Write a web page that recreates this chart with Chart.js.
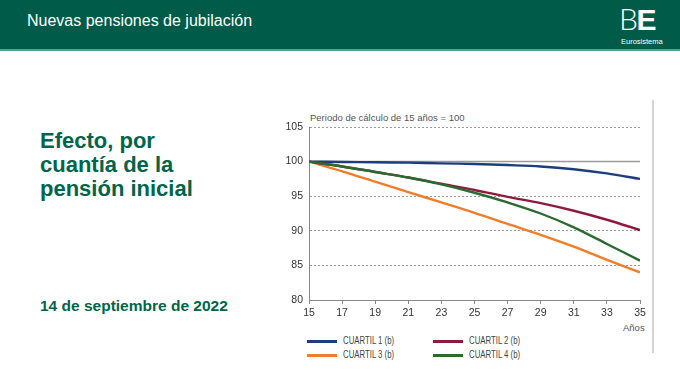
<!DOCTYPE html>
<html>
<head>
<meta charset="utf-8">
<script src="https://cdn.jsdelivr.net/npm/chart.js@4"></script>
<style>
  html, body { margin:0; padding:0; }
  body { width:680px; height:383px; position:relative; background:#fff; overflow:hidden;
         font-family:"Liberation Sans", Arial, Helvetica, sans-serif; }
  #band { position:absolute; left:0; top:0; width:680px; height:49px; background:#005b49; }
  #stripe { position:absolute; left:0; top:49px; width:680px; height:2px; background:#5d9e8f; }
  #htitle { position:absolute; left:27px; top:12px; color:#fff; font-size:16px; white-space:nowrap; }
  #logo { position:absolute; left:619px; top:1px; color:#fff; font-size:30px; line-height:34px; white-space:nowrap; letter-spacing:-1.5px; }
  #logo .b { font-family:"Lato","Liberation Sans",sans-serif; font-weight:300; }
  #logo .e { font-weight:700; }
  #euro { position:absolute; left:621px; top:37px; color:#fff; font-size:7.5px; white-space:nowrap; }
  #main { position:absolute; left:40px; top:129px; color:#00654a; font-weight:700; font-size:22px; line-height:24px; }
  #date { position:absolute; left:40px; top:297px; color:#00654a; font-weight:700; font-size:15.5px; white-space:nowrap; }
  #sub { position:absolute; left:310px; top:112px; color:#555; font-size:9.5px; white-space:nowrap; }
  #anos { position:absolute; left:623px; top:322px; color:#555; font-size:9.5px; }
  #vline { position:absolute; left:652px; top:100px; width:2px; height:253px; background:#d4d4d4; }
  #chartbox { position:absolute; left:270px; top:105px; width:385px; height:225px; }
  .lg { position:absolute; height:10px; }
  .lg .sw { position:absolute; left:0; top:4px; width:30px; height:3px; }
  .lg .tx { position:absolute; left:36px; top:-1px; font-size:10px; color:#444; white-space:nowrap;
            transform:scaleX(0.78); transform-origin:left center; }
</style>
</head>
<body>
<div id="band"></div>
<div id="stripe"></div>
<div id="htitle">Nuevas pensiones de jubilación</div>
<div id="logo"><span class="b">B</span><span class="e">E</span></div>
<div id="euro">Eurosistema</div>
<div id="main">Efecto, por<br>cuantía de la<br>pensión inicial</div>
<div id="date">14 de septiembre de 2022</div>
<div id="sub">Periodo de cálculo de 15 años = 100</div>
<div id="anos">Años</div>
<div id="vline"></div>
<div id="chartbox"><canvas id="c" width="385" height="225"></canvas></div>
<div id="legend"></div>
<script>
const years = [15, 17, 19, 21, 23, 25, 27, 29, 31, 33, 35];
const cuartil1 = [100, 99.95, 99.9, 99.85, 99.75, 99.65, 99.5, 99.3, 98.9, 98.3, 97.5];
const cuartil2 = [100, 99.3, 98.5, 97.7, 96.8, 95.9, 94.9, 94.0, 92.9, 91.6, 90.1];
const cuartil3 = [100, 98.6, 97.1, 95.6, 94.1, 92.6, 91.0, 89.4, 87.7, 85.8, 84.0];
const cuartil4 = [100, 99.3, 98.5, 97.7, 96.7, 95.5, 94.1, 92.5, 90.5, 88.1, 85.7];
const base = [100, 100, 100, 100, 100, 100, 100, 100, 100, 100, 100];
const seriesNames = ["CUARTIL 1 (b)", "CUARTIL 2 (b)", "CUARTIL 3 (b)", "CUARTIL 4 (b)"];
const yTicks = [80, 85, 90, 95, 100, 105];
const xTicks = [15, 17, 19, 21, 23, 25, 27, 29, 31, 33, 35];

const colors = ["#1d3e7c", "#8e1b3b", "#f07d28", "#2b6b31"];
const toXY = arr => arr.map((v, i) => ({x: years[i], y: v}));
const series = [cuartil1, cuartil2, cuartil3, cuartil4];
const orders = [4, 2, 3, 1];

const datasets = series.map((s, i) => ({
  label: seriesNames[i], data: toXY(s), borderColor: colors[i], borderWidth: 2.4,
  pointRadius: 0, tension: 0.35, fill: false, order: orders[i]
}));
datasets.push({label: 'base', data: toXY(base), borderColor: '#9a9a9a', borderWidth: 1.5,
  pointRadius: 0, fill: false, order: 10});

new Chart(document.getElementById('c'), {
  type: 'line',
  data: { datasets },
  options: {
    responsive: false, animation: false, devicePixelRatio: 1,
    layout: { padding: { top: 22, right: 15, left: 0, bottom: 0 } },
    plugins: { legend: { display: false }, tooltip: { enabled: false } },
    scales: {
      x: {
        type: 'linear', min: 15, max: 35,
        afterBuildTicks: sc => { sc.ticks = xTicks.map(v => ({value: v})); },
        afterFit: sc => { sc.height = 30; },
        grid: { drawOnChartArea: false, drawTicks: true, tickLength: 4, tickColor: '#888', color: '#888' },
        border: { display: true, color: '#888', width: 1 },
        ticks: { padding: 3, color: '#333', font: { family: 'Liberation Sans', size: 10.5 }, maxRotation: 0 }
      },
      y: {
        min: 80, max: 105,
        afterBuildTicks: sc => { sc.ticks = yTicks.map(v => ({value: v})); },
        afterFit: sc => { sc.width = 39; },
        grid: { drawTicks: false, color: ctx => (ctx.tick && ctx.tick.value === 80) ? 'rgba(0,0,0,0)' : '#9a9a9a', lineWidth: 1 },
        border: { display: true, color: '#888', width: 1, dash: [2, 2] },
        ticks: { padding: 6, color: '#333', font: { family: 'Liberation Sans', size: 10.5 } }
      }
    }
  }
});

// legend (HTML)
const legendPos = [[307, 336], [433, 336], [307, 350], [433, 350]];
const lg = document.getElementById('legend');
seriesNames.forEach((n, i) => {
  const d = document.createElement('div');
  d.className = 'lg';
  d.style.left = legendPos[i][0] + 'px';
  d.style.top = legendPos[i][1] + 'px';
  d.innerHTML = '<div class="sw" style="background:' + colors[i] + '"></div><div class="tx">' + n + '</div>';
  lg.appendChild(d);
});
</script>
</body>
</html>
